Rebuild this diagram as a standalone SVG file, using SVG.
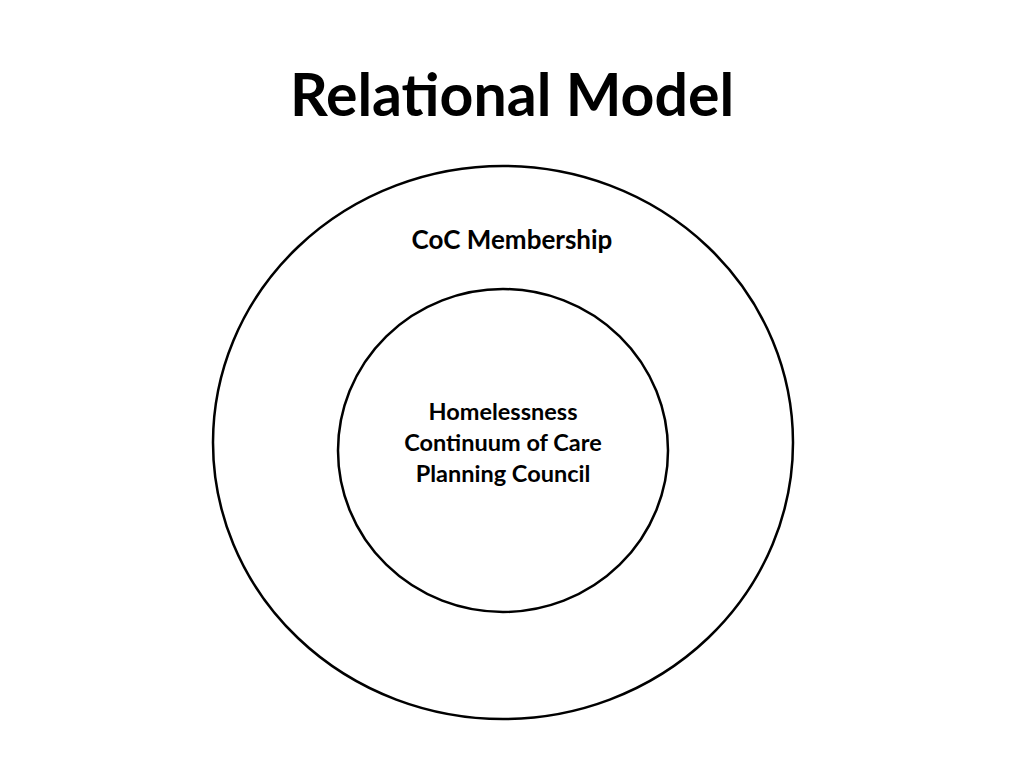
<svg xmlns="http://www.w3.org/2000/svg" width="1024" height="768" viewBox="0 0 1024 768">
<style>
.t{font-family:Lato,"Open Sans","Liberation Sans",sans-serif;font-weight:bold;fill:#000;text-anchor:middle}
.c{fill:none;stroke:#000;stroke-width:2.5}
</style>
<rect width="1024" height="768" fill="#fff"/>
<text class="t" x="512" y="116" font-size="59">Relational Model</text>
<g id="outer">
<ellipse class="c" cx="503" cy="442.5" rx="290" ry="276.5"/>
<text class="t" x="512" y="249" font-size="26">CoC Membership</text>
</g>
<g id="inner">
<ellipse class="c" cx="503" cy="450.5" rx="165" ry="161.5"/>
<text class="t" x="503" y="420" font-size="23.5">Homelessness</text>
<text class="t" x="503" y="451" font-size="23.5">Continuum of Care</text>
<text class="t" x="503" y="482" font-size="23.5">Planning Council</text>
</g>
<g id="connectors"/>
</svg>
